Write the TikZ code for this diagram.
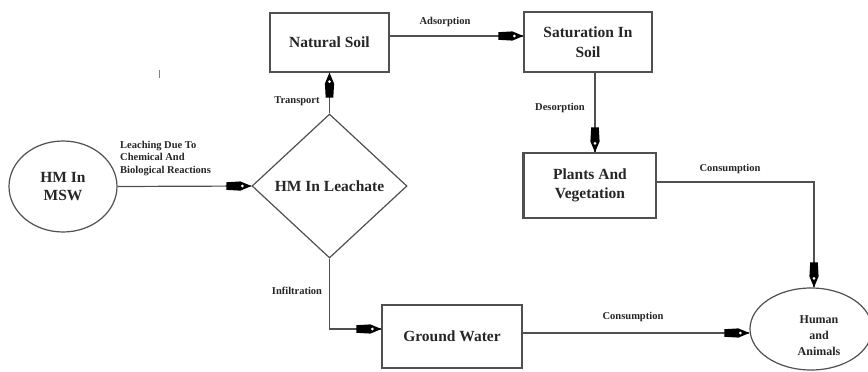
\documentclass[tikz,border=0pt]{standalone}
\usepackage{fontspec}
\setmainfont{Liberation Serif}
\usetikzlibrary{shapes.geometric,decorations.markings,calc}

\definecolor{linegray}{HTML}{505050}
\definecolor{textdark}{HTML}{262626}

\tikzset{
  conn/.style={draw=linegray, line width=1.2pt},
  box/.style={rectangle, draw=linegray, line width=1.2pt, inner sep=0pt,
    text=textdark, align=center, font=\fontsize{15.5}{19}\selectfont\bfseries},
  oval/.style={ellipse, draw=linegray, line width=1.2pt, inner sep=0pt},
  lbl/.style={text=textdark, inner sep=0pt,
    font=\fontsize{10.5}{12.5}\selectfont\bfseries},
  % pen-nib shaped arrow head, placed at the end of the path
  penarrow/.style={postaction={decorate, decoration={markings,
    mark=at position 1 with {
      \fill[black] (-25pt,-3.8pt) -- (-11pt,-4.6pt) -- (0pt,0pt)
                   -- (-11pt,4.6pt) -- (-25pt,3.8pt) -- cycle;
      \fill[white] (-9pt,0pt) circle (1.5pt);}}}}
}

\begin{document}
\begin{tikzpicture}[x=1pt, y=-1pt]
  \fill[white] (0,0) rectangle (868,372);
  \useasboundingbox (0,0) rectangle (868,372);

  % nodes
  \node[oval, minimum width=108pt, minimum height=91pt, text=textdark, align=center,
        font=\fontsize{15.5}{18}\selectfont\bfseries] (msw) at (63,186.5) {HM In\\MSW};
  \node[diamond, draw=linegray, line width=1.2pt, inner sep=0pt,
        minimum width=155pt, minimum height=144pt, text=textdark,
        font=\fontsize{15.5}{19}\selectfont\bfseries] (dia) at (329.5,186) {HM In Leachate};
  \node[box, minimum width=119pt, minimum height=59pt] (ns) at (329.5,42.5) {Natural Soil};
  \node[box, minimum width=128pt, minimum height=60pt,
        font=\fontsize{15.5}{20}\selectfont\bfseries] (sat) at (588,42) {Saturation In\\Soil};
  \node[box, minimum width=132pt, minimum height=65pt] (pl) at (590,185.5) {Plants And\\Vegetation};
  \node[box, minimum width=140pt, minimum height=63pt] (gw) at (452,336.5) {Ground Water};
  \node[oval, minimum width=122pt, minimum height=82pt] (hum) at (811,329) {};
  \node[text=textdark, align=center, inner sep=0pt,
        font=\fontsize{12}{16}\selectfont\bfseries] (humtxt) at (819,336) {Human\\and\\Animals};

  % heavier left edge of the plants box
  \draw[linegray, line width=2pt] (pl.north west) -- (pl.south west);

  % connectors
  \draw[conn, penarrow] (msw.east) -- (dia.west);
  \draw[conn, penarrow] (dia.north) -- (ns.south);
  \coordinate (a1) at ($(ns.east)+(0,-6.5)$);
  \draw[conn, penarrow] (a1) -- (a1 -| sat.west);
  \coordinate (d1) at ($(sat.south)+(7,0)$);
  \draw[conn, penarrow] (d1) -- (d1 |- pl.north);
  \coordinate (c1) at ($(pl.east)+(0,-3.5)$);
  \coordinate (c2) at (814,182);
  \draw[conn, penarrow] (c1) -- (c2) -- (c2 |- hum.north);
  \coordinate (i1) at ($(gw.west)+(0,-7.5)$);
  \draw[conn, penarrow] (dia.south) |- (i1);
  \coordinate (g1) at ($(gw.east)+(0,-3.5)$);
  \draw[conn, penarrow] (g1) -- (g1 -| hum.west);

  % connector labels
  \node[lbl, anchor=north west, align=left] (leach) at (120,141)
       {Leaching Due To\\Chemical And\\Biological Reactions};
  \node[lbl] (transp) at (297,101) {Transport};
  \node[lbl] (adsorp) at (445,22) {Adsorption};
  \node[lbl] (desorp) at (560,108) {Desorption};
  \node[lbl] (cons1) at (730,169) {Consumption};
  \node[lbl] (infil) at (297,291) {Infiltration};
  \node[lbl] (cons2) at (633,317) {Consumption};

  % small stray tick
  \draw[gray, line width=0.8pt] (159.5,70) -- (159.5,78);
\end{tikzpicture}
\end{document}
